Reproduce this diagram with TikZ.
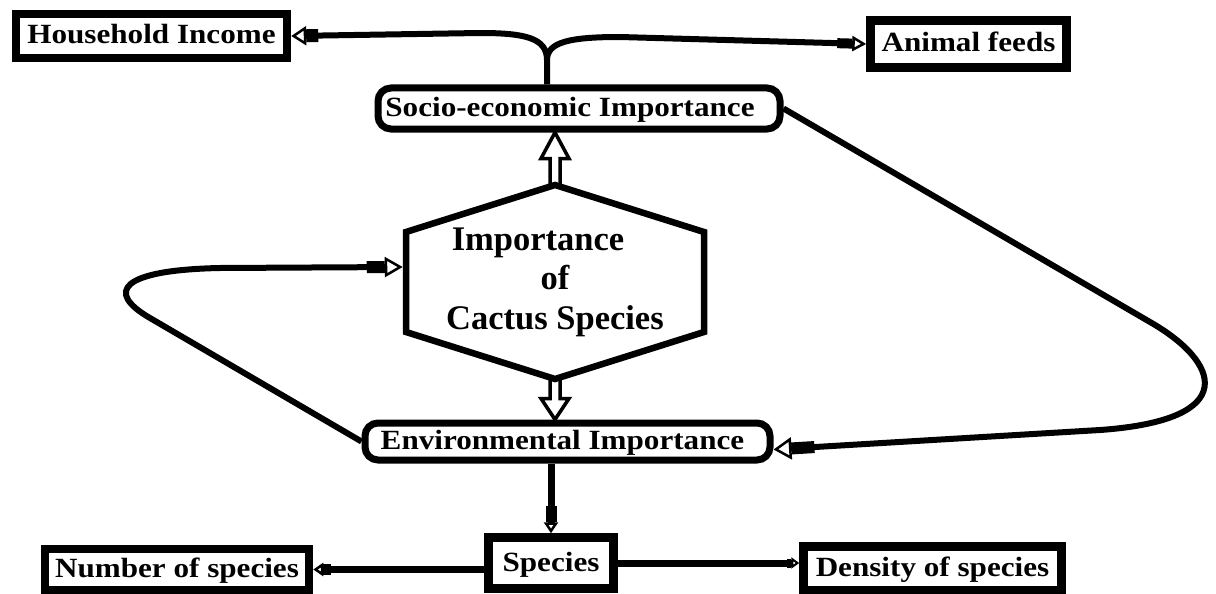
\documentclass[tikz,border=0pt]{standalone}
\usepackage{fontspec}
\setmainfont{Liberation Serif}
\newfontfamily\boxfont{Liberation Serif}[FakeStretch=1.12]
\usetikzlibrary{arrows.meta,calc}
\begin{document}
\begin{tikzpicture}[x=1pt,y=-1pt,
  rbox/.style={draw, line width=8.5pt, rectangle, inner sep=0pt, text height=19pt, text depth=3pt,
    font=\boxfont\bfseries\fontsize{27.8}{32}\selectfont},
  obox/.style={rbox, line width=7pt, rounded corners=13pt},
  conn/.style={line width=6pt},
  arrtip/.style n args={4}{-{Rectangle[length=#1,width=#2] Triangle[open,length=#3,width=#4,line width=2.5pt]}},
  blk/.style={line width=3.5pt, fill=white, line join=miter},
  hexline/.style={line width=6.5pt, line join=miter}
]
\useasboundingbox (0,0) rectangle (1216,594);

% nodes
\node[rbox, minimum width=271pt, minimum height=44pt] (hhi) at (151.5,36) {Household Income};
\node[rbox, minimum width=196pt, minimum height=47pt] (af) at (968.5,44) {Animal feeds};
\node[obox, minimum width=402pt, minimum height=41pt] (soc) at (579,108.5) {Socio-economic Importance\hspace*{18pt}};
\node[obox, minimum width=405pt, minimum height=37pt] (env) at (567.5,441.5) {Environmental Importance\hspace*{10pt}};
\node[rbox, minimum width=125pt, minimum height=51pt] (spec) at (551,563) {Species};
\node[rbox, minimum width=264pt, minimum height=41pt] (num) at (177,569.5) {Number of species};
\node[rbox, minimum width=258pt, minimum height=43.5pt] (den) at (932.5,568) {Density of species};
\node[minimum width=298pt, minimum height=194pt, inner sep=0pt, outer sep=0pt, align=center,
  font=\bfseries\fontsize{34.5}{39.5}\selectfont] (hex) at (555,282)
  {Importance\hspace*{34pt}\\of\hspace*{24pt}\\Cactus Species};

% top fork
\coordinate (fork) at (547,60);
\draw[conn, arrtip={12pt}{13pt}{15pt}{19pt}] (soc.north -| fork) -- (fork)
  .. controls (547,38) and (525,33) .. (480,33) -- (hhi.east);
\draw[conn, arrtip={15pt}{10pt}{14pt}{15pt}] (fork)
  .. controls (547,42) and (570,37) .. (620,37) -- (af.west);

% right loop
\draw[conn, arrtip={23pt}{12pt}{18pt}{22pt}] (soc.east) -- (1150,322)
  .. controls (1220,362) and (1242,420) .. (1100,430) -- ([yshift=-8pt]env.east);

% left loop
\draw[conn, arrtip={18pt}{12pt}{18pt}{20pt}] (env.west) -- (150,318)
  .. controls (105,292) and (120,270) .. (220,268) -- ([xshift=-3.25pt,yshift=15pt]hex.west);

% environmental -> species
\draw[line width=7pt, arrtip={16pt}{11pt}{11pt}{14pt}] (env.south -| spec.north) -- (spec.north);

% species -> number / density
\draw[line width=7pt, arrtip={8pt}{11pt}{10pt}{13pt}] (spec.west |- num.east) -- (num.east);
\draw[line width=7pt, arrtip={4pt}{9pt}{8pt}{11pt}] (spec.east) -- (spec.east -| den.west);

% block arrows
\draw[blk] let \p1=(hex.north), \p2=(soc.south) in
  (\x1-5pt,\y1) -- (\x1-5pt,\y2-26pt) -- (\x1-14pt,\y2-26pt) -- (\x1,\y2)
  -- (\x1+14pt,\y2-26pt) -- (\x1+5pt,\y2-26pt) -- (\x1+5pt,\y1);
\draw[blk] let \p1=(hex.south), \p2=(env.north) in
  (\x1-5pt,\y1) -- (\x1-5pt,\y2+21pt) -- (\x1-14pt,\y2+21pt) -- (\x1,\y2)
  -- (\x1+14pt,\y2+21pt) -- (\x1+5pt,\y2+21pt) -- (\x1+5pt,\y1);

% hexagon outline
\draw[hexline] (hex.north) -- ([yshift=-47pt]hex.north east) -- ([yshift=47pt]hex.south east)
  -- (hex.south) -- ([yshift=47pt]hex.south west) -- ([yshift=-47pt]hex.north west) -- cycle;
\end{tikzpicture}
\end{document}
